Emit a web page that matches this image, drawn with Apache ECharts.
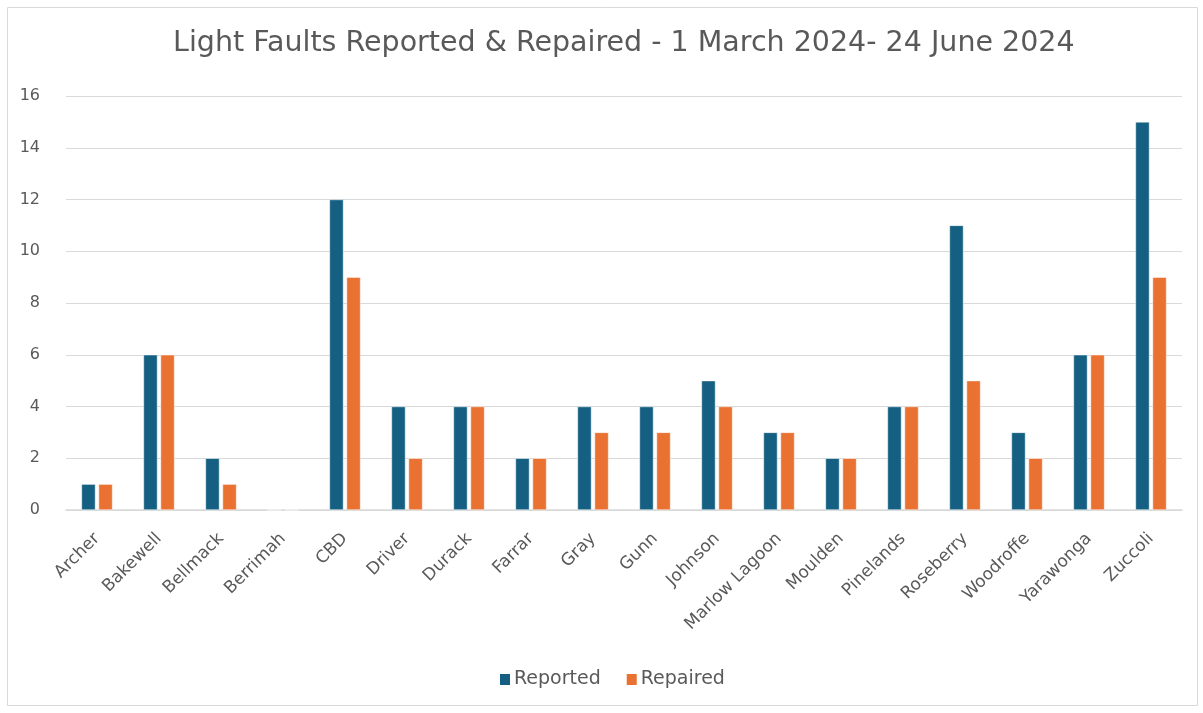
<!DOCTYPE html>
<html>
<head>
<meta charset="utf-8">
<script src="https://cdn.jsdelivr.net/npm/echarts@6/dist/echarts.min.js"></script>
<style>
  html, body { margin: 0; padding: 0; background: #fff; }
  #chart { width: 1203px; height: 713px; }
</style>
</head>
<body>
<div id="chart"></div>
<script>
const suburbs = ['Archer', 'Bakewell', 'Bellmack', 'Berrimah', 'CBD', 'Driver', 'Durack', 'Farrar', 'Gray', 'Gunn',
  'Johnson', 'Marlow Lagoon', 'Moulden', 'Pinelands', 'Roseberry', 'Woodroffe', 'Yarawonga', 'Zuccoli']
const reported = [1, 6, 2, 0, 12, 4, 4, 2, 4, 4, 5, 3, 2, 4, 11, 3, 6, 15]
const repaired = [1, 6, 1, 0, 9, 2, 4, 2, 3, 3, 4, 3, 2, 4, 5, 2, 6, 9]

const textColor = '#595959'
const font = 'DejaVu Sans'

const myChart = echarts.init(document.getElementById('chart'))

let option = {
  animation: false,
  textStyle: { fontFamily: font },
  title: {
    text: 'Light Faults Reported & Repaired - 1 March 2024- 24 June 2024',
    left: 168,
    top: 24,
    textStyle: { color: textColor, fontSize: 28.5, fontWeight: 'normal', fontFamily: font }
  },
  graphic: [{
    type: 'rect',
    shape: { x: 7.5, y: 7.5, width: 1190, height: 698 },
    style: { fill: 'none', stroke: '#d9d9d9', lineWidth: 1 },
    silent: true
  }],
  legend: {
    bottom: 19,
    left: 493,
    itemWidth: 12,
    itemHeight: 13,
    itemGap: 24,
    icon: 'rect',
    textStyle: { color: textColor, fontSize: 19, fontFamily: font, padding: [0, 0, 0, -2] }
  },
  grid: { left: 66, right: 21, top: 96, bottom: 203 },
  xAxis: {
    type: 'category',
    data: suburbs,
    axisLine: { lineStyle: { color: '#d9d9d9', width: 1.5 } },
    axisTick: { show: false },
    axisLabel: { rotate: 45, color: textColor, fontSize: 17, margin: 26, interval: 0, fontFamily: font }
  },
  yAxis: {
    type: 'value',
    min: 0,
    max: 16,
    interval: 2,
    axisLine: { show: false },
    axisTick: { show: false },
    splitLine: { lineStyle: { color: '#d9d9d9', width: 1 } },
    axisLabel: { color: textColor, fontSize: 16, margin: 26, fontFamily: font }
  },
  series: [
    {
      name: 'Reported',
      type: 'bar',
      data: reported,
      barWidth: 14,
      barGap: '22%',
      itemStyle: { color: '#156082', borderColor: '#fff', borderWidth: 0.5 }
    },
    {
      name: 'Repaired',
      type: 'bar',
      data: repaired,
      barWidth: 14,
      itemStyle: { color: '#E97132', borderColor: '#fff', borderWidth: 0.5 }
    }
  ]
}

myChart.setOption(option)
</script>
</body>
</html>
